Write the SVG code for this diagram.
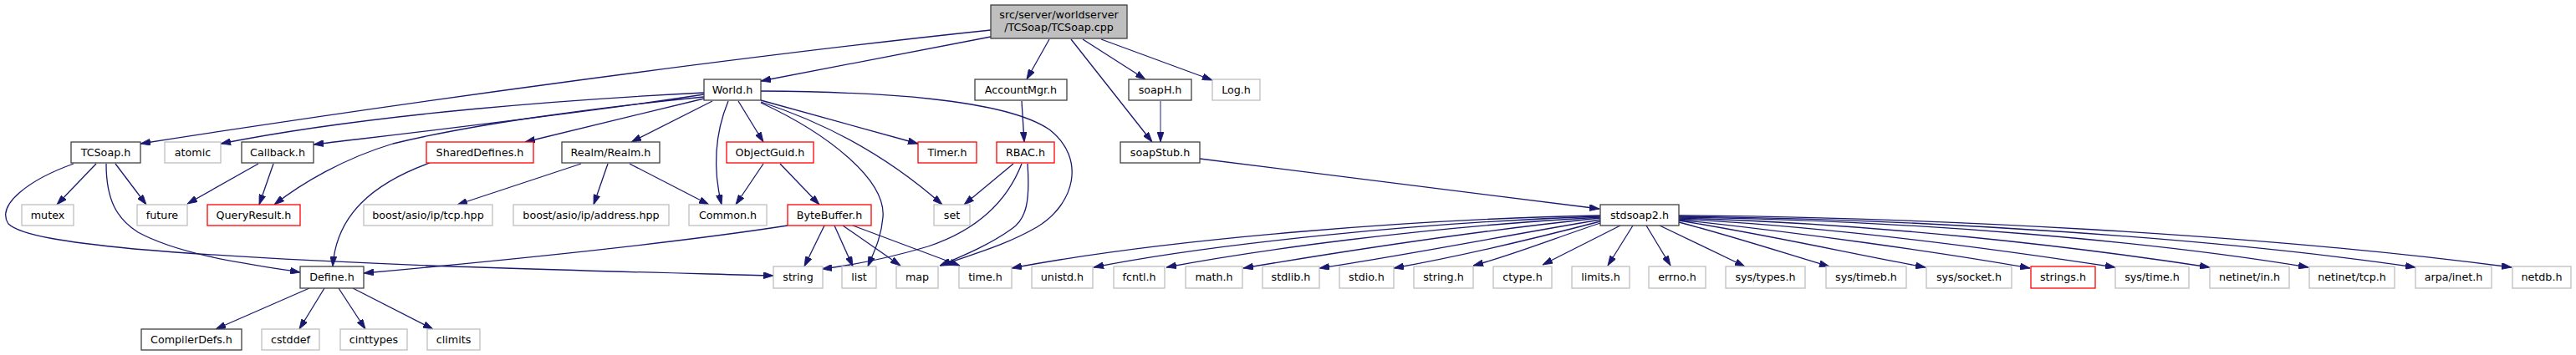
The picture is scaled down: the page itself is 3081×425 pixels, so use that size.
<svg xmlns="http://www.w3.org/2000/svg" width="3081" height="425" viewBox="0 0 3081 425">
<style>
rect{stroke-width:1.3}
.nb{fill:#fff;stroke:#404040}
.ng{fill:#fff;stroke:#bfbfbf}
.nr{fill:#fff;stroke:#ff0000}
.rt{fill:#bfbfbf;stroke:#404040}
text{font-family:"DejaVu Sans","Liberation Sans",sans-serif;font-size:12.7px;fill:#000;text-anchor:middle}
#edges path{fill:none;stroke:#191970;stroke-width:1.3;marker-end:url(#ah)}
</style>
<defs>
<marker id="ah" markerUnits="userSpaceOnUse" markerWidth="12" markerHeight="8" viewBox="0 0 12 8" refX="12" refY="4" orient="auto">
<path d="M0,0 L12,4 L0,8 z" fill="#191970" stroke="#191970" stroke-width="0.8"/>
</marker>
</defs>
<rect width="3081" height="425" fill="#fff"/>
<g id="edges">
<path d="M1185,36 C900,66 500,120 168,172"/>
<path d="M1185,44 L910,97"/>
<path d="M1255,47 L1228,95"/>
<path d="M1281,47 L1378,170"/>
<path d="M1295,47 L1370,95"/>
<path d="M1317,47 L1450,96"/>
<path d="M1388,121 L1388,170" style="stroke:#55559b"/>
<path d="M1435,190 L1913,250"/>
<path d="M1222,121 L1225,170"/>
<path d="M842,111 C700,118 450,135 264,172"/>
<path d="M842,113 C700,135 500,158 375,173"/>
<path d="M842,116 C700,130 560,150 470,172 C410,190 360,220 328,245"/>
<path d="M842,118 L628,170"/>
<path d="M852,121 L755,170"/>
<path d="M871,121 C855,160 852,200 863,245"/>
<path d="M883,121 L913,170"/>
<path d="M910,120 L1098,172"/>
<path d="M910,122 C990,148 1065,190 1127,245"/>
<path d="M910,123 C990,160 1060,215 1056,260 C1054,285 1045,302 1038,319"/>
<path d="M910,109 C1050,110 1200,118 1255,155 C1300,190 1285,245 1240,272 C1200,295 1160,305 1125,318"/>
<path d="M115,196 L68,245"/>
<path d="M138,196 L175,245"/>
<path d="M127,196 C127,240 140,262 165,278 C215,305 290,315 359,326"/>
<path d="M88,196 C35,215 -5,245 10,268 C25,282 80,290 160,298 C400,318 700,324 925,330"/>
<path d="M309,196 L224,244"/>
<path d="M327,196 L310,245"/>
<path d="M514,195 C445,220 402,258 398,319"/>
<path d="M695,196 L547,245"/>
<path d="M727,196 L710,245"/>
<path d="M753,196 L848,245"/>
<path d="M913,196 L880,245"/>
<path d="M933,196 L980,245"/>
<path d="M1212,196 L1153,245"/>
<path d="M1222,196 C1205,240 1170,275 1110,295 C1060,310 1015,318 983,322"/>
<path d="M1229,196 C1232,240 1228,262 1210,274 C1185,292 1155,305 1124,318"/>
<path d="M942,270 C800,292 600,312 435,327"/>
<path d="M986,270 L962,319"/>
<path d="M998,270 L1020,319"/>
<path d="M1008,270 L1077,318"/>
<path d="M1020,270 L1148,318"/>
<path d="M370,345 L258,394"/>
<path d="M388,345 L358,394"/>
<path d="M405,345 L437,394"/>
<path d="M422,345 L518,394"/>
<path d="M1914,258 C1700,262 1400,285 1210,321"/>
<path d="M1914,259 C1700,266 1450,292 1308,320"/>
<path d="M1914,260 C1700,272 1500,300 1395,320"/>
<path d="M1914,261 C1750,278 1600,302 1487,321"/>
<path d="M1914,263 C1800,282 1680,306 1578,321"/>
<path d="M1914,265 C1830,287 1750,306 1667,321"/>
<path d="M1914,267 C1860,285 1810,305 1762,318"/>
<path d="M1938,270 L1845,317"/>
<path d="M1953,270 L1923,318"/>
<path d="M1969,270 L1998,318"/>
<path d="M1985,270 L2087,319"/>
<path d="M2008,266 C2080,285 2140,305 2188,319"/>
<path d="M2008,264 C2120,282 2220,305 2303,320"/>
<path d="M2008,263 C2150,278 2320,302 2428,321"/>
<path d="M2008,262 C2200,272 2400,300 2530,320"/>
<path d="M2008,261 C2250,268 2480,295 2643,320"/>
<path d="M2008,260 C2300,264 2580,290 2761,320"/>
<path d="M2008,259 C2300,262 2650,285 2889,320"/>
<path d="M2008,258 C2300,260 2700,280 3004,320"/>
</g>
<g id="n_root"><rect class="rt" x="1185" y="6" width="163" height="40"/><text x="1266.5" y="22">src/server/worldserver</text><text x="1266.5" y="37">/TCSoap/TCSoap.cpp</text></g>
<g id="n_world"><rect class="nb" x="842" y="95" width="68" height="25"/><text x="876" y="112">World.h</text></g>
<g id="n_accountmgr"><rect class="nb" x="1166" y="95" width="110" height="25"/><text x="1221" y="112">AccountMgr.h</text></g>
<g id="n_soaph"><rect class="nb" x="1350" y="95" width="75" height="25"/><text x="1387.5" y="112">soapH.h</text></g>
<g id="n_log"><rect class="ng" x="1450" y="95" width="57" height="25"/><text x="1478.5" y="112">Log.h</text></g>
<g id="n_tcsoaph"><rect class="nb" x="85" y="170" width="83" height="25"/><text x="126.5" y="187">TCSoap.h</text></g>
<g id="n_atomic"><rect class="ng" x="197" y="170" width="67" height="25"/><text x="230.5" y="187">atomic</text></g>
<g id="n_callback"><rect class="nb" x="289" y="170" width="86" height="25"/><text x="332" y="187">Callback.h</text></g>
<g id="n_shareddefines"><rect class="nr" x="510" y="170" width="128" height="25"/><text x="574" y="187">SharedDefines.h</text></g>
<g id="n_realm"><rect class="nb" x="672" y="170" width="117" height="25"/><text x="730.5" y="187">Realm/Realm.h</text></g>
<g id="n_objectguid"><rect class="nr" x="869" y="170" width="104" height="25"/><text x="921" y="187">ObjectGuid.h</text></g>
<g id="n_timer"><rect class="nr" x="1098" y="170" width="70" height="25"/><text x="1133" y="187">Timer.h</text></g>
<g id="n_rbac"><rect class="nr" x="1192" y="170" width="69" height="25"/><text x="1226.5" y="187">RBAC.h</text></g>
<g id="n_soapstub"><rect class="nb" x="1340" y="170" width="95" height="25"/><text x="1387.5" y="187">soapStub.h</text></g>
<g id="n_mutex"><rect class="ng" x="26" y="245" width="62" height="25"/><text x="57" y="262">mutex</text></g>
<g id="n_future"><rect class="ng" x="164" y="245" width="60" height="25"/><text x="194" y="262">future</text></g>
<g id="n_queryresult"><rect class="nr" x="248" y="245" width="111" height="25"/><text x="303.5" y="262">QueryResult.h</text></g>
<g id="n_tcp"><rect class="ng" x="435" y="245" width="154" height="25"/><text x="512" y="262">boost/asio/ip/tcp.hpp</text></g>
<g id="n_address"><rect class="ng" x="614" y="245" width="186" height="25"/><text x="707" y="262">boost/asio/ip/address.hpp</text></g>
<g id="n_common"><rect class="ng" x="824" y="245" width="93" height="25"/><text x="870.5" y="262">Common.h</text></g>
<g id="n_bytebuffer"><rect class="nr" x="942" y="245" width="100" height="25"/><text x="992" y="262">ByteBuffer.h</text></g>
<g id="n_set"><rect class="ng" x="1117" y="245" width="43" height="25"/><text x="1138.5" y="262">set</text></g>
<g id="n_stdsoap2"><rect class="nb" x="1914" y="245" width="94" height="25"/><text x="1961" y="262">stdsoap2.h</text></g>
<g id="n_define"><rect class="nb" x="359" y="319" width="76" height="26"/><text x="397" y="336">Define.h</text></g>
<g id="n_string"><rect class="ng" x="925" y="319" width="59" height="26"/><text x="954.5" y="336">string</text></g>
<g id="n_list"><rect class="ng" x="1007" y="319" width="41" height="26"/><text x="1027.5" y="336">list</text></g>
<g id="n_map"><rect class="ng" x="1072" y="319" width="50" height="26"/><text x="1097" y="336">map</text></g>
<g id="n_time"><rect class="ng" x="1147" y="319" width="63" height="26"/><text x="1178.5" y="336">time.h</text></g>
<g id="n_unistd"><rect class="ng" x="1234" y="319" width="73" height="26"/><text x="1270.5" y="336">unistd.h</text></g>
<g id="n_fcntl"><rect class="ng" x="1332" y="319" width="61" height="26"/><text x="1362.5" y="336">fcntl.h</text></g>
<g id="n_math"><rect class="ng" x="1418" y="319" width="68" height="26"/><text x="1452" y="336">math.h</text></g>
<g id="n_stdlib"><rect class="ng" x="1510" y="319" width="68" height="26"/><text x="1544" y="336">stdlib.h</text></g>
<g id="n_stdio"><rect class="ng" x="1602" y="319" width="65" height="26"/><text x="1634.5" y="336">stdio.h</text></g>
<g id="n_stringh"><rect class="ng" x="1691" y="319" width="71" height="26"/><text x="1726.5" y="336">string.h</text></g>
<g id="n_ctype"><rect class="ng" x="1786" y="319" width="70" height="26"/><text x="1821" y="336">ctype.h</text></g>
<g id="n_limits"><rect class="ng" x="1880" y="319" width="69" height="26"/><text x="1914.5" y="336">limits.h</text></g>
<g id="n_errno"><rect class="ng" x="1972" y="319" width="68" height="26"/><text x="2006" y="336">errno.h</text></g>
<g id="n_systypes"><rect class="ng" x="2064" y="319" width="95" height="26"/><text x="2111.5" y="336">sys/types.h</text></g>
<g id="n_systimeb"><rect class="ng" x="2184" y="319" width="96" height="26"/><text x="2232" y="336">sys/timeb.h</text></g>
<g id="n_syssocket"><rect class="ng" x="2304" y="319" width="102" height="26"/><text x="2355" y="336">sys/socket.h</text></g>
<g id="n_strings"><rect class="nr" x="2429" y="319" width="77" height="26"/><text x="2467.5" y="336">strings.h</text></g>
<g id="n_systime"><rect class="ng" x="2530" y="319" width="88" height="26"/><text x="2574" y="336">sys/time.h</text></g>
<g id="n_netinetin"><rect class="ng" x="2643" y="319" width="95" height="26"/><text x="2690.5" y="336">netinet/in.h</text></g>
<g id="n_netinettcp"><rect class="ng" x="2762" y="319" width="102" height="26"/><text x="2813" y="336">netinet/tcp.h</text></g>
<g id="n_arpainet"><rect class="ng" x="2889" y="319" width="91" height="26"/><text x="2934.5" y="336">arpa/inet.h</text></g>
<g id="n_netdb"><rect class="ng" x="3005" y="319" width="70" height="26"/><text x="3040" y="336">netdb.h</text></g>
<g id="n_compilerdefs"><rect class="nb" x="169" y="394" width="120" height="25"/><text x="229" y="411">CompilerDefs.h</text></g>
<g id="n_cstddef"><rect class="ng" x="313" y="394" width="69" height="25"/><text x="347.5" y="411">cstddef</text></g>
<g id="n_cinttypes"><rect class="ng" x="407" y="394" width="80" height="25"/><text x="447" y="411">cinttypes</text></g>
<g id="n_climits"><rect class="ng" x="511" y="394" width="63" height="25"/><text x="542.5" y="411">climits</text></g>
</svg>
